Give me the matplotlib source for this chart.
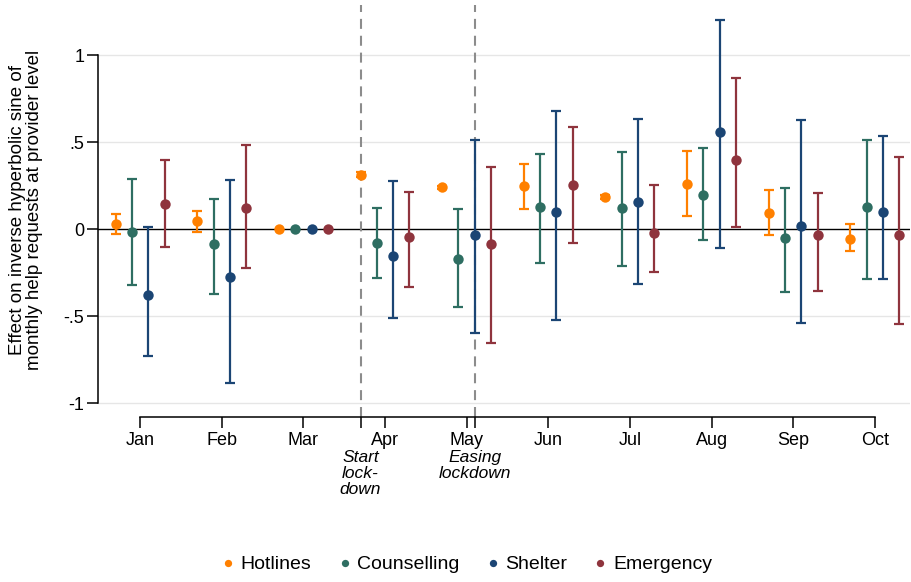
import matplotlib.pyplot as plt
import matplotlib.transforms as mtransforms
import numpy as np

months = ["Jan", "Feb", "Mar", "Apr", "May", "Jun", "Jul", "Aug", "Sep", "Oct"]
series = ["Hotlines", "Counselling", "Shelter", "Emergency"]
colors = ["#ff8000", "#2e6e62", "#1b4574", "#8f343d"]

# point estimates and 95% CI bounds per month
hotlines = [0.030, 0.044, 0.0, 0.314, 0.240, 0.249, 0.186, 0.259, 0.094, -0.056]
hotlines_lo = [-0.030, -0.017, 0.0, 0.302, 0.230, 0.117, 0.176, 0.075, -0.036, -0.126]
hotlines_hi = [0.088, 0.103, 0.0, 0.326, 0.250, 0.374, 0.196, 0.452, 0.224, 0.029]

counselling = [-0.019, -0.088, 0.0, -0.077, -0.169, 0.130, 0.119, 0.199, -0.050, 0.125]
counselling_lo = [-0.320, -0.370, 0.0, -0.282, -0.448, -0.195, -0.209, -0.063, -0.360, -0.284]
counselling_hi = [0.287, 0.174, 0.0, 0.122, 0.117, 0.433, 0.441, 0.466, 0.236, 0.513]

shelter = [-0.377, -0.274, 0.0, -0.153, -0.034, 0.096, 0.155, 0.556, 0.019, 0.100]
shelter_lo = [-0.730, -0.885, 0.0, -0.510, -0.598, -0.521, -0.316, -0.111, -0.542, -0.285]
shelter_hi = [0.013, 0.285, 0.0, 0.274, 0.513, 0.678, 0.632, 1.205, 0.628, 0.536]

emergency = [0.144, 0.123, 0.0, -0.048, -0.084, 0.255, -0.023, 0.398, -0.036, -0.031]
emergency_lo = [-0.103, -0.226, 0.0, -0.330, -0.653, -0.080, -0.249, 0.015, -0.354, -0.544]
emergency_hi = [0.395, 0.481, 0.0, 0.213, 0.356, 0.588, 0.255, 0.868, 0.207, 0.416]

offsets = [-0.3, -0.1, 0.1, 0.3]
event_pos = [3.7, 5.1]
event_labels = ["Start\nlock-\ndown", "Easing\nlockdown"]

est = [hotlines, counselling, shelter, emergency]
lo = [hotlines_lo, counselling_lo, shelter_lo, emergency_lo]
hi = [hotlines_hi, counselling_hi, shelter_hi, emergency_hi]

plt.rcParams['font.family'] = ['Liberation Sans', 'DejaVu Sans']

fig = plt.figure(figsize=(9.12, 5.82), dpi=100)
ax = fig.add_axes([0.1075, 0.2835, 0.8904, 0.7113])

x = np.arange(1, len(months) + 1)

for yv in [1, 0.5, -0.5, -1]:
    ax.axhline(yv, color="#e6e6e6", lw=1, zorder=0)
ax.axhline(0, color="black", lw=1, zorder=1)

# lockdown markers: dashed line, extra tick and italic label under the axis
trans = mtransforms.blended_transform_factory(ax.transData, ax.transAxes)
for xe, lab in zip(event_pos, event_labels):
    ax.axvline(xe, ymin=0, ymax=0.995, color="#8c8c8c", ls=(0, (4.8, 3.3)),
               lw=1.5, zorder=1)
    ax.text(xe, -0.08, lab, transform=trans, ha="center", va="top",
            style="italic", fontsize=12.5, linespacing=1.07)

for i, name in enumerate(series):
    e = np.array(est[i])
    l = np.array(lo[i])
    h = np.array(hi[i])
    xs = x + offsets[i]
    has_ci = h > l
    ax.errorbar(xs[has_ci], e[has_ci], yerr=[e[has_ci] - l[has_ci], h[has_ci] - e[has_ci]],
                fmt="none", ecolor=colors[i], elinewidth=1.6, capsize=3.5,
                capthick=1.6, zorder=2)
    ax.plot(xs, e, "o", color=colors[i], markersize=7.5, zorder=3,
            label=name, markeredgewidth=0)

ax.set_xlim(0.486, 10.43)
ax.set_ylim(-1.08, 1.30)

ax.set_yticks([1, 0.5, 0, -0.5, -1])
ax.set_yticklabels(["1", ".5", "0", "-.5", "-1"])
ax.set_xticks(x)
ax.set_xticklabels(months)
ax.set_xticks(event_pos, minor=True)
ax.tick_params(axis="both", labelsize=13, length=8, width=1.1, direction="out")
ax.tick_params(axis="x", which="minor", length=8, width=1.1)
ax.tick_params(axis="x", pad=3)
ax.tick_params(axis="y", pad=2)

for s in ["top", "right"]:
    ax.spines[s].set_visible(False)
ax.spines["left"].set_bounds(-1, 1)
ax.spines["bottom"].set_bounds(1, 10)
ax.spines["left"].set_linewidth(1.1)
ax.spines["bottom"].set_linewidth(1.1)

ax.set_ylabel("Effect on inverse hyperbolic sine of\nmonthly help requests at provider level",
              fontsize=13.5, linespacing=0.95, labelpad=15)

handles, labels = ax.get_legend_handles_labels()
fig.legend(handles, labels, loc="center", ncol=4, frameon=False,
           bbox_to_anchor=(0.51, 0.03), fontsize=14, markerscale=0.7,
           handletextpad=0.15, columnspacing=1.2, handlelength=1.0)

fig.savefig("out.png", dpi=100)
